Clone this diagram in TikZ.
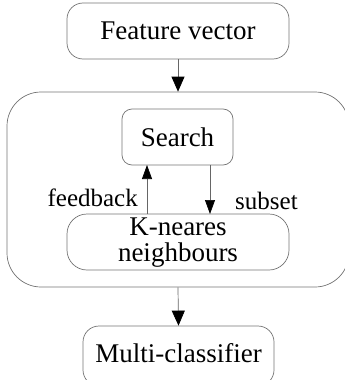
\documentclass[tikz,border=0pt]{standalone}
\usepackage{fontspec}
\setmainfont{Liberation Serif}
\usetikzlibrary{arrows.meta}
\begin{document}
\begin{tikzpicture}[x=1pt,y=-1pt,
  box/.style={draw=black!55, line width=0.7pt, font=\fontsize{27}{28}\selectfont, inner sep=0pt, align=center},
  txt/.style={font=\fontsize{27}{28}\selectfont, inner sep=0pt},
  link/.style={draw=black!60, line width=0.7pt, -{Triangle[length=15pt,width=13pt,color=black,fill=black]}},
  smalllink/.style={draw=black!60, line width=0.7pt, -{Triangle[length=14pt,width=10pt,color=black,fill=black]}},
  lbl/.style={font=\fontsize{25}{26}\selectfont, inner sep=0pt}]
\useasboundingbox (0,0) rectangle (345,380);
\clip (0,0) rectangle (345,380);
% outer container
\node[box, rounded corners=34pt, minimum width=342pt, minimum height=195pt] (outer) at (178,189.5) {};
% stage boxes
\node[box, rounded corners=16pt, minimum width=222pt, minimum height=56pt] (feat) at (178,31) {Feature vector};
\node[box, rounded corners=10pt, minimum width=111pt, minimum height=56pt] (search) at (177.5,137) {Search};
\node[box, rounded corners=20pt, minimum width=222pt, minimum height=56pt] (knn) at (178,242) {};
\node[txt, anchor=base] (knn1) at (178,235) {K-neares};
\node[txt, anchor=base] (knn2) at (178,261) {neighbours};
\node[box, rounded corners=16pt, minimum width=191pt, minimum height=60pt] (multi) at (178.5,356) {};
\node[txt] (multitext) at (178.5,353) {Multi-classifier};
% connectors
\draw[link] (feat.south) -- (outer.north);
\draw[link] (outer.south) -- (multi.north);
\coordinate (fbot) at (147,214);
\coordinate (ftop) at (147,165);
\coordinate (stop) at (210,165);
\coordinate (sbot) at (210,214);
\draw[smalllink] (fbot) -- (ftop);
\draw[smalllink] (stop) -- (sbot);
% labels
\node[lbl, anchor=east] (fb) at (138,198) {feedback};
\node[lbl, anchor=west] (ss) at (235,201) {subset};
\end{tikzpicture}
\end{document}
